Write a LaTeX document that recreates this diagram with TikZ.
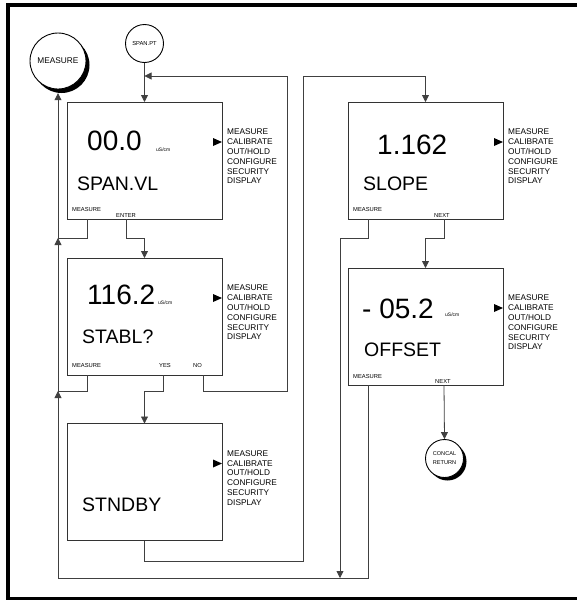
\documentclass[tikz,border=0pt]{standalone}
\usepackage{fontspec}
\setmainfont{Liberation Sans}
\usetikzlibrary{arrows.meta}
\tikzset{
 box/.style={draw=black!80, line width=0.9pt, minimum width=155pt, minimum height=117pt, inner sep=0pt, outer sep=0pt, anchor=north west},
 conn/.style={draw=black!75, line width=0.8pt},
 arr/.style={conn, -{Triangle[length=7pt,width=7pt]}},
 big/.style={font=\fontsize{28}{28}\selectfont, anchor=base west, inner sep=0pt},
 mid/.style={font=\fontsize{19.5}{19.5}\selectfont, anchor=base west, inner sep=0pt},
 tiny/.style={font=\fontsize{5.8}{6}\selectfont, anchor=base west, inner sep=0pt},
 unit/.style={font=\fontsize{5}{5}\selectfont, anchor=base west, inner sep=0pt},
 menu/.style={font=\fontsize{8.3}{8.3}\selectfont, anchor=base west, inner sep=0pt},
 circ/.style={circle, draw=black, line width=0.9pt, fill=white, inner sep=0pt, align=center},
 shad/.style={circle, fill=black, draw=none, inner sep=0pt},
}
\newcommand{\boxmenu}[1]{%
  \fill[black] ([yshift=-40pt]#1.north east) -- ++(-9,4) -- ++(0,-8) -- cycle;
  \foreach \t [count=\i, evaluate=\i as \yy using -32.8-9.8*(\i-1)] in {MEASURE,CALIBRATE,OUT/HOLD,CONFIGURE,SECURITY,DISPLAY}
    \node[menu] (#1-m\i) at ([xshift=5pt,yshift=\yy pt]#1.north east) {\t};
}
\begin{document}
\begin{tikzpicture}[x=1pt,y=-1pt]
\useasboundingbox (0,0) rectangle (577,600);
\clip (0,0) rectangle (577,600);
\fill[white] (0,0) rectangle (577,600);
% frame
\draw[line width=4pt] (8,5) rectangle (640,598.5);

% boxes
\node[box] (b1) at (67,102) {};
\node[box] (b2) at (67,258) {};
\node[box] (b3) at (67,423.5) {};
\node[box] (b4) at (348,102) {};
\node[box] (b5) at (348,268) {};

% circles
\node[shad, minimum size=56pt] (mcs) at (61.5,65) {};
\node[circ, minimum size=56pt, font=\fontsize{8.3}{8.3}\selectfont] (mc) at (58,61) {MEASURE};
\node[circ, minimum size=38pt, font=\fontsize{5.8}{6}\selectfont] (sp) at (144.5,43.5) {SPAN.PT};
\node[shad, minimum size=38pt] (crs) at (447.5,461.5) {};
\node[circ, minimum size=38pt, font=\fontsize{5.6}{9}\selectfont] (cr) at (444.5,458.5) {CONCAL\\RETURN};

% box 1
\node[big] (t1) at (87,150.5) {00.0};
\node[unit] (u1) at (156,151) {uS/cm};
\node[mid] (s1) at (77,190) {SPAN.VL};
\node[tiny] (k1a) at (72,211) {MEASURE};
\node[tiny] (k1b) at (116,217) {ENTER};
\boxmenu{b1}

% box 2
\node[big] (t2) at (87,304) {116.2};
\node[unit] (u2) at (158,304) {uS/cm};
\node[mid] (s2) at (82,343) {STABL?};
\node[tiny] (k2a) at (72,367) {MEASURE};
\node[tiny] (k2b) at (159,367) {YES};
\node[tiny] (k2c) at (193,367) {NO};
\boxmenu{b2}

% box 3
\node[mid] (s3) at (82,511) {STNDBY};
\boxmenu{b3}

% box 4
\node[big] (t4) at (377,154) {1.162};
\node[mid] (s4) at (363,190.5) {SLOPE};
\node[tiny] (k4a) at (353,211) {MEASURE};
\node[tiny] (k4b) at (434,217) {NEXT};
\boxmenu{b4}

% box 5
\node[big] (t5) at (362,318) {- 05.2};
\node[unit] (u5) at (445,316) {uS/cm};
\node[mid] (s5) at (364,356.5) {OFFSET};
\node[tiny] (k5a) at (353,378) {MEASURE};
\node[tiny] (k5b) at (435,383) {NEXT};
\boxmenu{b5}

% connectors
\draw[arr] (sp.south) -- (sp.south |- b1.north);
\draw[arr] ([xshift=136pt]b2.south west) -- ++(0,16) -| (287,76) -- (144.5,76);
\draw[conn] ([xshift=20pt]b1.south west) |- (58,238);
\draw[arr] (58,238) -- (mcs.south -| mc.south);
\draw[arr] ([xshift=59pt]b1.south west) |- (144.5,238) -- (b2.north);
\draw[conn] ([xshift=20pt]b2.south west) |- (58,391);
\draw[arr] (58,391) -- (58,238);
\draw[arr] ([xshift=96pt]b2.south west) |- (144.5,391) -- (b3.north);
\draw[arr] (b3.south) |- (303,561) -- (303,76) -| (b4.north);
\draw[arr] ([xshift=20pt]b4.south west) |- (340,238) -- (340,578);
\draw[arr] ([xshift=96pt]b4.south west) |- (425.5,238) -- (b5.north);
\draw[arr] ([xshift=20pt]b5.south west) -- (368,578) -- (58,578) -- (58,391);
\draw[arr] ([xshift=96pt]b5.south west) -- (cr.north);
\end{tikzpicture}
\end{document}
